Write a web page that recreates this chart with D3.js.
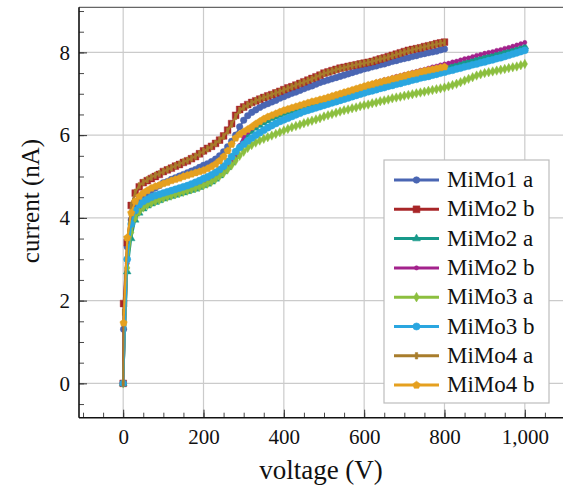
<!DOCTYPE html>
<html><head><meta charset="utf-8">
<script src="https://cdn.jsdelivr.net/npm/d3@7"></script>
<style>
body{margin:0;background:#fff}svg{display:block}
</style>
</head><body>
<script>
const voltage800 = [0,1,10,20,30,40,50,60,70,80,90,100,110,120,130,140,150,160,170,180,190,200,210,220,230,240,250,260,270,280,290,300,310,320,330,340,350,360,370,380,390,400,410,420,430,440,450,460,470,480,490,500,510,520,530,540,550,560,570,580,590,600,610,620,630,640,650,660,670,680,690,700,710,720,730,740,750,760,770,780,790,800];
const voltage1000 = voltage800.concat([810,820,830,840,850,860,870,880,890,900,910,920,930,940,950,960,970,980,990,1000]);

const mimo1a = [0,1.31,3.30,3.95,4.30,4.45,4.55,4.60,4.66,4.72,4.78,4.85,4.88,4.93,4.97,5.01,5.05,5.09,5.13,5.17,5.22,5.27,5.31,5.36,5.42,5.50,5.60,5.72,5.85,6.00,6.20,6.36,6.47,6.55,6.61,6.67,6.72,6.76,6.80,6.84,6.89,6.93,6.97,7.01,7.04,7.08,7.12,7.16,7.19,7.23,7.27,7.30,7.33,7.36,7.39,7.42,7.45,7.48,7.51,7.54,7.57,7.60,7.62,7.65,7.67,7.70,7.72,7.75,7.78,7.80,7.83,7.85,7.87,7.90,7.92,7.95,7.97,7.99,8.01,8.03,8.06,8.08];
const mimo2b = [0,1.93,3.40,4.30,4.60,4.75,4.85,4.90,4.95,5.00,5.05,5.12,5.16,5.20,5.25,5.29,5.34,5.38,5.43,5.48,5.55,5.62,5.68,5.73,5.80,5.88,5.98,6.12,6.28,6.48,6.62,6.68,6.74,6.79,6.83,6.87,6.91,6.95,6.98,7.02,7.06,7.10,7.14,7.17,7.21,7.25,7.29,7.33,7.37,7.41,7.45,7.50,7.53,7.56,7.59,7.62,7.64,7.66,7.68,7.70,7.72,7.74,7.76,7.78,7.81,7.84,7.87,7.90,7.93,7.96,7.99,8.02,8.05,8.07,8.09,8.11,8.14,8.16,8.18,8.21,8.23,8.25];
const mimo2a = [0,null,2.70,3.50,3.95,4.12,4.22,4.29,4.34,4.38,4.42,4.46,4.49,4.52,4.55,4.58,4.61,4.64,4.67,4.70,4.74,4.78,4.82,4.87,4.94,5.02,5.12,5.22,5.34,5.50,5.70,5.88,6.00,6.09,6.17,6.24,6.30,6.35,6.40,6.44,6.48,6.52,6.55,6.58,6.61,6.64,6.67,6.70,6.73,6.76,6.79,6.82,6.85,6.88,6.91,6.94,6.97,7.00,7.03,7.06,7.09,7.12,7.15,7.18,7.20,7.23,7.26,7.29,7.31,7.34,7.37,7.39,7.42,7.44,7.47,7.49,7.52,7.54,7.57,7.59,7.62,7.64,7.67,7.69,7.72,7.74,7.77,7.79,7.82,7.84,7.87,7.89,7.92,7.94,7.97,7.99,8.02,8.04,8.07,8.09,8.12,8.14];
const mimo2b2 = [0,null,2.90,3.75,4.08,4.22,4.30,4.35,4.40,4.44,4.48,4.51,4.54,4.57,4.60,4.63,4.66,4.69,4.72,4.75,4.79,4.83,4.87,4.92,4.99,5.07,5.16,5.24,5.34,5.52,5.75,5.95,6.07,6.16,6.24,6.31,6.37,6.42,6.47,6.51,6.55,6.59,6.62,6.65,6.68,6.71,6.74,6.77,6.80,6.83,6.86,6.89,6.92,6.95,6.98,7.01,7.04,7.07,7.10,7.13,7.16,7.19,7.22,7.25,7.28,7.31,7.34,7.36,7.39,7.42,7.44,7.47,7.49,7.52,7.54,7.57,7.59,7.62,7.65,7.67,7.70,7.72,7.74,7.77,7.79,7.82,7.85,7.87,7.90,7.93,7.95,7.98,8.00,8.02,8.05,8.07,8.10,8.12,8.15,8.18,8.21,8.24];
const mimo3a = [0,null,2.79,3.65,4.00,4.15,4.25,4.31,4.36,4.40,4.44,4.48,4.51,4.54,4.57,4.60,4.63,4.66,4.69,4.72,4.75,4.79,4.83,4.88,4.94,5.01,5.08,5.17,5.27,5.38,5.50,5.60,5.69,5.76,5.82,5.87,5.91,5.95,5.99,6.03,6.07,6.11,6.15,6.19,6.22,6.25,6.29,6.32,6.35,6.38,6.41,6.45,6.48,6.51,6.54,6.57,6.60,6.62,6.65,6.67,6.70,6.72,6.74,6.77,6.79,6.82,6.84,6.86,6.89,6.91,6.93,6.95,6.97,6.99,7.01,7.03,7.05,7.07,7.09,7.11,7.13,7.15,7.18,7.21,7.24,7.28,7.32,7.36,7.40,7.44,7.47,7.50,7.52,7.54,7.56,7.58,7.60,7.62,7.64,7.66,7.69,7.72];
const mimo3b = [0,null,3.00,3.85,4.18,4.32,4.40,4.45,4.50,4.54,4.57,4.60,4.63,4.66,4.69,4.72,4.75,4.78,4.82,4.86,4.90,4.95,4.99,5.04,5.10,5.17,5.25,5.36,5.48,5.60,5.70,5.78,5.86,5.93,6.00,6.06,6.12,6.18,6.23,6.28,6.33,6.37,6.41,6.45,6.49,6.53,6.57,6.60,6.63,6.66,6.69,6.72,6.75,6.78,6.81,6.84,6.87,6.90,6.93,6.96,6.99,7.02,7.05,7.07,7.10,7.13,7.15,7.18,7.20,7.23,7.25,7.28,7.30,7.33,7.35,7.38,7.40,7.42,7.45,7.47,7.50,7.52,7.55,7.57,7.60,7.62,7.65,7.67,7.70,7.72,7.75,7.77,7.80,7.82,7.85,7.87,7.90,7.93,7.96,7.99,8.02,8.05];
const mimo4a = [0,1.72,3.45,4.30,4.62,4.78,4.86,4.92,4.98,5.03,5.07,5.12,5.17,5.21,5.26,5.30,5.35,5.39,5.44,5.49,5.55,5.61,5.67,5.73,5.80,5.88,5.97,6.10,6.26,6.45,6.60,6.67,6.73,6.78,6.83,6.87,6.91,6.94,6.98,7.02,7.05,7.09,7.13,7.17,7.21,7.25,7.28,7.32,7.36,7.40,7.45,7.49,7.52,7.55,7.58,7.61,7.63,7.66,7.68,7.70,7.72,7.74,7.76,7.78,7.81,7.84,7.86,7.89,7.92,7.95,7.98,8.01,8.04,8.06,8.09,8.11,8.13,8.16,8.18,8.20,8.22,8.24];
const mimo4b = [null,1.46,3.52,4.12,4.40,4.52,4.60,4.66,4.72,4.76,4.79,4.83,4.86,4.90,4.93,4.96,5.00,5.03,5.06,5.09,5.12,5.15,5.19,5.24,5.30,5.38,5.48,5.62,5.78,5.93,6.02,6.08,6.14,6.20,6.27,6.33,6.39,6.44,6.48,6.52,6.56,6.60,6.63,6.66,6.69,6.72,6.75,6.78,6.81,6.83,6.86,6.88,6.91,6.94,6.97,7.00,7.03,7.06,7.09,7.12,7.15,7.18,7.21,7.23,7.26,7.28,7.31,7.33,7.36,7.38,7.41,7.43,7.46,7.48,7.50,7.53,7.55,7.57,7.59,7.61,7.63,7.65];

const seriesNames = ["MiMo1 a","MiMo2 b","MiMo2 a","MiMo2 b","MiMo3 a","MiMo3 b","MiMo4 a","MiMo4 b"];
const seriesValues = [mimo1a, mimo2b, mimo2a, mimo2b2, mimo3a, mimo3b, mimo4a, mimo4b];
const seriesVoltage = [voltage800, voltage800, voltage1000, voltage1000, voltage1000, voltage1000, voltage800, voltage800];
const seriesColors = ["#4a66b3","#a82628","#17998a","#a3228c","#8cbf3f","#2aa6e0","#a87d2c","#e5a01f"];
const seriesMarks = ["circle","square","triangle","dot","diamond","bigcircle","bar","pentagon"];

const xTicks = [0,200,400,600,800,1000];
const yTicks = [0,2,4,6,8];
const xLabel = "voltage (V)";
const yLabel = "current (nA)";

const FONT = '"Liberation Serif"';
function serif(sel, size) {
  sel.attr("font-family", null).style("font-family", FONT).style("font-size", size + "px").attr("fill", "#111");
}
const W = 563, H = 492;
const svg = d3.select("body").append("svg").attr("width", W).attr("height", H);
const x = d3.scaleLinear().domain([-110, 1110]).range([79, 569]);
const y = d3.scaleLinear().domain([-0.83, 9.09]).range([417.7, 7.3]);
const L = 79, R = 569, T = 7.3, B = 417.7;

svg.append("defs").append("clipPath").attr("id","clip")
  .append("rect").attr("x", L).attr("y", T).attr("width", R - L).attr("height", B - T);

// grid
const grid = svg.append("g").attr("stroke", "#cbcbcb").attr("stroke-width", 1.2);
grid.selectAll(".gx").data(xTicks).join("line")
  .attr("x1", d => x(d)).attr("x2", d => x(d)).attr("y1", T).attr("y2", B);
grid.selectAll(".gy").data(yTicks).join("line")
  .attr("y1", d => y(d)).attr("y2", d => y(d)).attr("x1", L).attr("x2", R);

// minor ticks
const xMinor = d3.range(-100, 1101, 50);
const yMinor = d3.range(-0.5, 9.01, 0.5);
svg.append("g").attr("transform", `translate(0,${B})`)
  .call(d3.axisBottom(x).tickValues(xMinor).tickSize(-5).tickFormat(""))
  .call(g => { g.select(".domain").remove(); g.selectAll("text").remove(); g.selectAll("line").attr("stroke", "#333").attr("stroke-width", 0.9); });
svg.append("g").attr("transform", `translate(${L},0)`)
  .call(d3.axisLeft(y).tickValues(yMinor).tickSize(-5).tickFormat(""))
  .call(g => { g.select(".domain").remove(); g.selectAll("text").remove(); g.selectAll("line").attr("stroke", "#333").attr("stroke-width", 0.9); });

// major axes
const xa = svg.append("g").attr("transform", `translate(0,${B})`)
  .call(d3.axisBottom(x).tickValues(xTicks).tickSize(-8).tickPadding(11).tickFormat(d3.format(",")));
xa.attr("font-family", null).attr("font-size", null);
xa.select(".domain").remove();
xa.selectAll("line").attr("stroke", "#333").attr("stroke-width", 1);
serif(xa.selectAll("text"), 21);

const ya = svg.append("g").attr("transform", `translate(${L},0)`)
  .call(d3.axisLeft(y).tickValues(yTicks).tickSize(-8).tickPadding(9));
ya.attr("font-family", null).attr("font-size", null);
ya.select(".domain").remove();
ya.selectAll("line").attr("stroke", "#333").attr("stroke-width", 1);
serif(ya.selectAll("text"), 21);

// frame
svg.append("line").attr("x1", L).attr("x2", R).attr("y1", T).attr("y2", T).attr("stroke", "#666").attr("stroke-width", 1.3);
svg.append("line").attr("x1", L).attr("x2", L).attr("y1", T).attr("y2", B).attr("stroke", "#111").attr("stroke-width", 1.6);
svg.append("line").attr("x1", L).attr("x2", R).attr("y1", B).attr("y2", B).attr("stroke", "#111").attr("stroke-width", 1.6);

// markers
function markPath(kind) {
  switch (kind) {
    case "circle": return d3.symbol(d3.symbolCircle, 34)();
    case "bigcircle": return d3.symbol(d3.symbolCircle, 40)();
    case "dot": return d3.symbol(d3.symbolCircle, 14)();
    case "square": return d3.symbol(d3.symbolSquare, 46)();
    case "triangle": return d3.symbol(d3.symbolTriangle, 26)();
    case "diamond": return d3.symbol(d3.symbolDiamond, 26)();
    case "bar": return "M-1.2,-3.2H1.2V3.2H-1.2Z";
    case "pentagon": {
      const r = 3.9, pts = [];
      for (let i = 0; i < 5; i++) { const a = -Math.PI/2 + i*2*Math.PI/5; pts.push([r*Math.cos(a), r*Math.sin(a)]); }
      return "M" + pts.map(p => p[0].toFixed(2)+","+p[1].toFixed(2)).join("L") + "Z";
    }
  }
}

const plot = svg.append("g").attr("clip-path", "url(#clip)");
seriesValues.forEach((vals, i) => {
  const pts = vals.map((v, j) => ({v: seriesVoltage[i][j], c: v})).filter(d => d.c !== null);
  const g = plot.append("g");
  g.append("path").datum(pts)
    .attr("fill", "none").attr("stroke", seriesColors[i]).attr("stroke-width", 2)
    .attr("stroke-linejoin", "round")
    .attr("d", d3.line().x(d => x(d.v)).y(d => y(d.c)));
  const mp = markPath(seriesMarks[i]);
  g.selectAll("path.m").data(pts).join("path").attr("class", "m")
    .attr("d", mp)
    .attr("transform", d => `translate(${x(d.v)},${y(d.c)})`)
    .attr("fill", seriesColors[i]).attr("stroke", seriesColors[i]).attr("stroke-width", 0.6).attr("stroke-opacity", 0.7);
});

// legend
const lg = svg.append("g");
lg.append("rect").attr("x", 384).attr("y", 160).attr("width", 165).attr("height", 243)
  .attr("fill", "#fff").attr("stroke", "#bdbdbd").attr("stroke-width", 1.2);
seriesNames.forEach((name, i) => {
  const cy = 180 + i * 29.3;
  lg.append("line").attr("x1", 394).attr("x2", 439).attr("y1", cy).attr("y2", cy)
    .attr("stroke", seriesColors[i]).attr("stroke-width", 3);
  lg.append("path").attr("d", markPath(seriesMarks[i])).attr("transform", `translate(416.5,${cy})`)
    .attr("fill", seriesColors[i]).attr("stroke", seriesColors[i]).attr("stroke-width", 0.6);
  serif(lg.append("text").attr("x", 447).attr("y", cy + 7).text(name), 23);
});

// axis labels
serif(svg.append("text").attr("x", 321).attr("y", 479).attr("text-anchor", "middle").text(xLabel), 27);
serif(svg.append("text").attr("transform", "translate(39,201) rotate(-90)").attr("text-anchor", "middle").text(yLabel), 25);
</script>
</body></html>
